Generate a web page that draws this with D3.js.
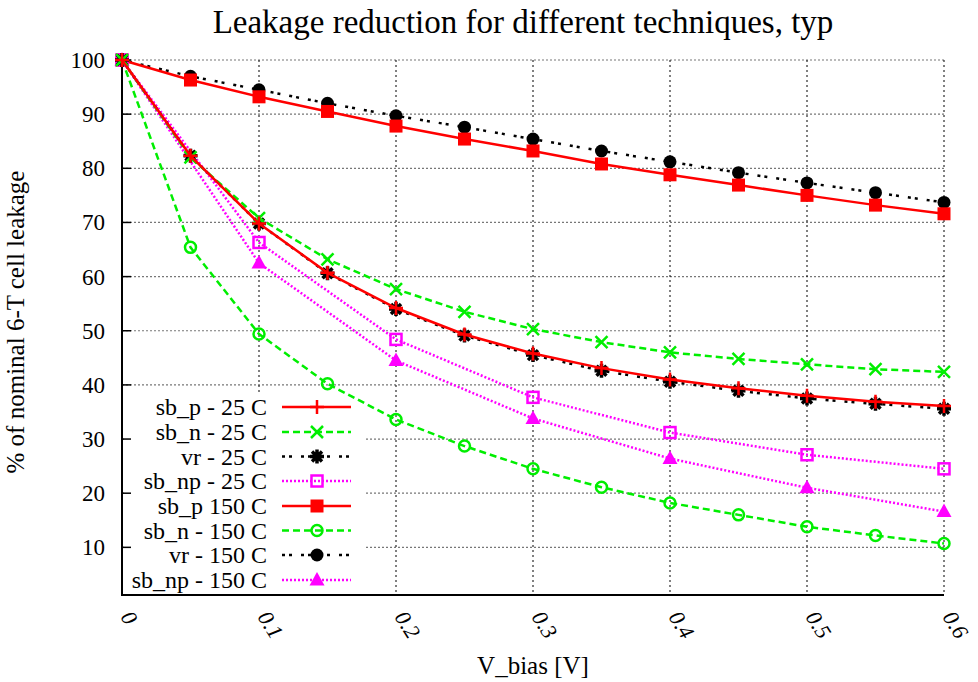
<!DOCTYPE html>
<html>
<head>
<meta charset="utf-8">
<script src="https://cdn.jsdelivr.net/npm/d3@7"></script>
</head>
<body style="margin:0; background:#fff">
<svg width="978" height="682"></svg>
<script>
// V_bias values (13 points at 0.05 step, 7 points at 0.1 step)
var vFine = [0, 0.05, 0.1, 0.15, 0.2, 0.25, 0.3, 0.35, 0.4, 0.45, 0.5, 0.55, 0.6];
var vCoarse = [0, 0.1, 0.2, 0.3, 0.4, 0.5, 0.6];

var sbP25 = [100, 82.3, 69.8, 60.7, 54.2, 49.3, 45.8, 43.1, 41.0, 39.4, 38.0, 36.9, 36.1];
var sbN25 = [100, 82.0, 70.8, 63.2, 57.7, 53.5, 50.3, 47.9, 46.0, 44.8, 43.8, 42.9, 42.4];
var vr25 = [100, 82.3, 69.8, 60.6, 54.0, 49.1, 45.5, 42.6, 40.6, 38.9, 37.5, 36.5, 35.6];
var sbNp25 = [100, 66.3, 48.4, 37.7, 31.2, 27.1, 24.5];
var sbP150 = [100, 96.3, 93.2, 90.5, 87.8, 85.4, 83.2, 80.8, 78.8, 76.9, 75.0, 73.2, 71.6];
var sbN150 = [100, 65.4, 49.4, 40.2, 33.6, 28.7, 24.5, 21.1, 18.2, 16.0, 13.8, 12.2, 10.7];
var vr150 = [100, 97.0, 94.5, 92.0, 89.7, 87.6, 85.4, 83.2, 81.2, 79.2, 77.3, 75.5, 73.7];
var sbNp150 = [100, 62.5, 44.5, 33.8, 26.4, 21.0, 16.6];

var xTicks = [0, 0.1, 0.2, 0.3, 0.4, 0.5, 0.6];
var yTicks = [10, 20, 30, 40, 50, 60, 70, 80, 90, 100];

var series = [
  {name: "sb_p - 25 C",   xs: vFine,   ys: sbP25,   color: "#ff0000", dash: null,        marker: "plus"},
  {name: "sb_n - 25 C",   xs: vFine,   ys: sbN25,   color: "#00ee00", dash: "7,4",       marker: "cross"},
  {name: "vr - 25 C",     xs: vFine,   ys: vr25,    color: "#000000", dash: "3,4,3,9",   marker: "star"},
  {name: "sb_np - 25 C",  xs: vCoarse, ys: sbNp25,  color: "#ff00ff", dash: "2,2",       marker: "osquare"},
  {name: "sb_p 150 C",    xs: vFine,   ys: sbP150,  color: "#ff0000", dash: null,        marker: "fsquare"},
  {name: "sb_n - 150 C",  xs: vFine,   ys: sbN150,  color: "#00ee00", dash: "7,4",       marker: "ocircle"},
  {name: "vr - 150 C",    xs: vFine,   ys: vr150,   color: "#000000", dash: "3,4,3,9",   marker: "fcircle"},
  {name: "sb_np - 150 C", xs: vCoarse, ys: sbNp150, color: "#ff00ff", dash: "2,2",       marker: "ftriangle"}
];

// a single family name; the renderer doesn't take fallback lists well
var FONT = "'Liberation Serif'";

var svg = d3.select("svg");

var x = d3.scaleLinear().domain([0, 0.6]).range([122, 944]);
var y = d3.scaleLinear().domain([1.2, 100]).range([595, 60]);

// grid
var grid = svg.append("g");
grid.selectAll("line.h").data(yTicks).enter().append("line")
  .attr("x1", x(0)).attr("x2", x(0.6))
  .attr("y1", function (d) { return y(d); }).attr("y2", function (d) { return y(d); })
  .attr("stroke", "#777").attr("stroke-width", 1.2).attr("stroke-dasharray", "2,2");
grid.selectAll("line.v").data(xTicks.slice(1)).enter().append("line")
  .attr("x1", function (d) { return x(d); }).attr("x2", function (d) { return x(d); })
  .attr("y1", y(100)).attr("y2", 595)
  .attr("stroke", "#000").attr("stroke-width", 1).attr("stroke-dasharray", "2,3");

// legend background hides the grid
svg.append("rect").attr("x", 124).attr("y", 395).attr("width", 240).attr("height", 199).attr("fill", "#fff");

// axes
svg.append("line").attr("x1", x(0)).attr("x2", x(0)).attr("y1", 595).attr("y2", y(100))
  .attr("stroke", "#000").attr("stroke-width", 2);
svg.append("line").attr("x1", x(0) - 1).attr("x2", x(0.6)).attr("y1", 595).attr("y2", 595)
  .attr("stroke", "#000").attr("stroke-width", 2);
svg.selectAll("line.yt").data(yTicks).enter().append("line")
  .attr("x1", x(0)).attr("x2", x(0) + 9)
  .attr("y1", function (d) { return y(d); }).attr("y2", function (d) { return y(d); })
  .attr("stroke", "#000").attr("stroke-width", 1.5);

svg.selectAll("text.yl").data(yTicks).enter().append("text")
  .attr("x", 105).attr("y", function (d) { return y(d); })
  .attr("dy", "0.35em").attr("text-anchor", "end")
  .style("font-family", FONT).style("font-size", "23px")
  .text(function (d) { return d; });

svg.selectAll("text.xl").data(xTicks).enter().append("text")
  .attr("transform", function (d) { return "translate(" + (x(d) - 2) + ",617) rotate(58)"; })
  .style("font-family", FONT).style("font-size", "22px").style("font-style", "italic")
  .text(function (d) { return d === 0 ? "0" : d3.format(".1f")(d); });

// titles
svg.append("text").attr("x", 523).attr("y", 33).attr("text-anchor", "middle")
  .style("font-family", FONT).style("font-size", "33px")
  .text("Leakage reduction for different techniques, typ");
svg.append("text").attr("x", 533).attr("y", 674).attr("text-anchor", "middle")
  .style("font-family", FONT).style("font-size", "25px")
  .text("V_bias [V]");
svg.append("text").attr("transform", "translate(24,322) rotate(-90)").attr("text-anchor", "middle")
  .style("font-family", FONT).style("font-size", "25px")
  .text("% of nominal 6-T cell leakage");

// markers
function drawMarker(g, type, cx, cy, color) {
  var m = g.append("g").attr("transform", "translate(" + cx + "," + cy + ")");
  if (type === "plus") {
    m.append("path").attr("d", "M-7,0H7M0,-7V7").attr("stroke", color).attr("stroke-width", 2.5);
  } else if (type === "cross") {
    m.append("path").attr("d", "M-6,-6L6,6M-6,6L6,-6").attr("stroke", color).attr("stroke-width", 2.5);
  } else if (type === "star") {
    m.append("path").attr("d", "M-7,0H7M0,-7V7M-5,-5L5,5M-5,5L5,-5").attr("stroke", color).attr("stroke-width", 3.5);
  } else if (type === "osquare") {
    m.append("rect").attr("x", -5.5).attr("y", -5.5).attr("width", 11).attr("height", 11)
      .attr("fill", "none").attr("stroke", color).attr("stroke-width", 2.5);
  } else if (type === "fsquare") {
    m.append("rect").attr("x", -6.5).attr("y", -6.5).attr("width", 13).attr("height", 13).attr("fill", color);
  } else if (type === "ocircle") {
    m.append("circle").attr("r", 5.5).attr("fill", "none").attr("stroke", color).attr("stroke-width", 2.5);
  } else if (type === "fcircle") {
    m.append("circle").attr("r", 6.5).attr("fill", color);
  } else if (type === "ftriangle") {
    m.append("path").attr("d", "M0,-8L7.5,5.5H-7.5Z").attr("fill", color);
  }
}

var line = d3.line().x(function (d) { return x(d[0]); }).y(function (d) { return y(d[1]); });

// draw in reverse so the 25 C series sit on top
series.slice().reverse().forEach(function (s) {
  var pts = s.xs.map(function (v, i) { return [v, s.ys[i]]; });
  var g = svg.append("g");
  g.append("path").datum(pts).attr("d", line)
    .attr("fill", "none").attr("stroke", s.color).attr("stroke-width", 2.5)
    .attr("stroke-dasharray", s.dash);
  pts.forEach(function (p) { drawMarker(g, s.marker, x(p[0]), y(p[1]), s.color); });
});

// legend
var legendY = [407, 432, 456.5, 481, 506, 530.5, 555, 580];
series.forEach(function (s, i) {
  var ly = legendY[i];
  svg.append("text").attr("x", 267).attr("y", ly).attr("dy", "0.35em")
    .attr("text-anchor", "end")
    .style("font-family", FONT).style("font-size", "24px")
    .text(s.name);
  svg.append("line").attr("x1", 282).attr("x2", 351).attr("y1", ly).attr("y2", ly)
    .attr("stroke", s.color).attr("stroke-width", 2.5).attr("stroke-dasharray", s.dash);
  drawMarker(svg, s.marker, 317, ly, s.color);
});
</script>
</body>
</html>
